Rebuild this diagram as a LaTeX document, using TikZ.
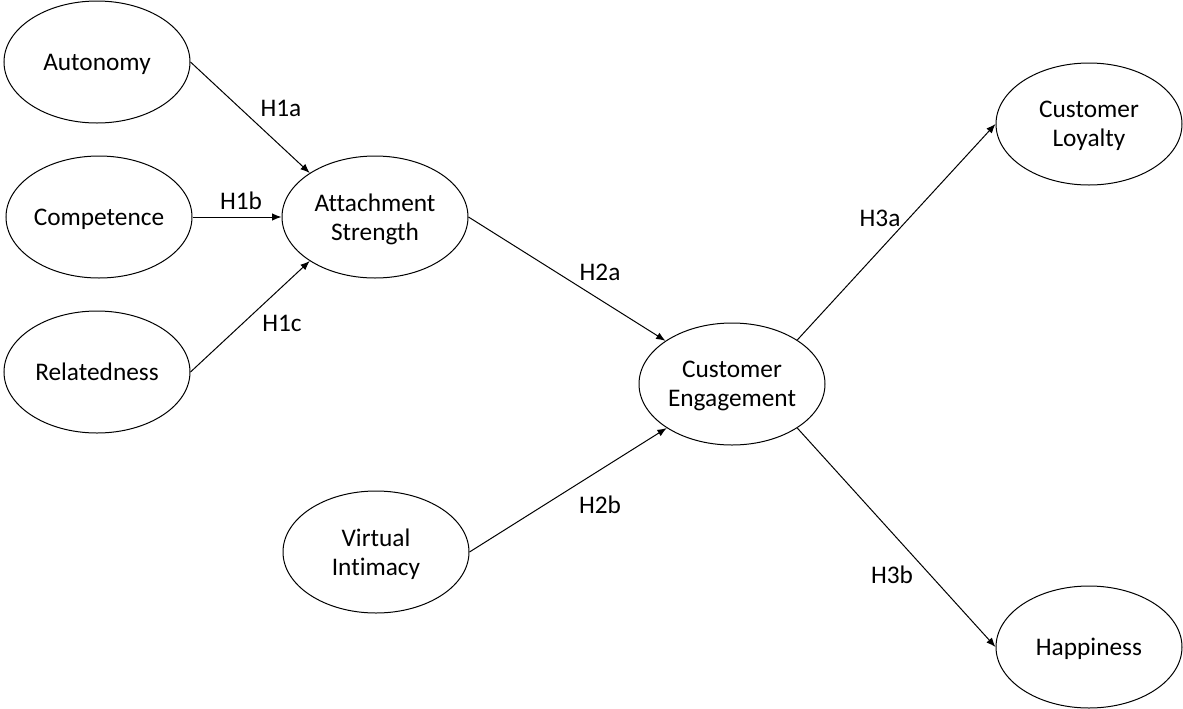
\documentclass[tikz,border=0pt]{standalone}
\usepackage{fontspec}
\setmainfont{Carlito}[RawFeature=-liga]
\usetikzlibrary{shapes.geometric,arrows.meta}
\begin{document}
\begin{tikzpicture}[x=0.75pt,y=-0.75pt,
  construct/.style={draw, ellipse, line width=0.75pt, minimum width=139.5pt, minimum height=91.5pt, inner sep=0pt, text depth=0pt, align=center, font=\fontsize{19}{22}\selectfont},
  hyp/.style={font=\fontsize{19}{22}\selectfont, inner sep=0pt},
  path/.style={line width=0.75pt, -{Latex[length=7pt,width=5.5pt]}}]
\path[use as bounding box] (0,0) rectangle (1183,708);
\node[construct] (aut) at (97,62) {Autonomy};
\node[construct] (comp) at (99,217) {Competence};
\node[construct] (rel) at (97,372) {Relatedness};
\node[construct] (att) at (375,217) {Attachment\\Strength};
\node[construct] (vi) at (376,552) {Virtual\\Intimacy};
\node[construct] (ce) at (732,384) {Customer\\Engagement};
\node[construct] (cl) at (1089,124) {Customer\\Loyalty};
\node[construct] (hap) at (1089,647) {Happiness};
\draw[path] (aut.east) -- (att.146);
\draw[path] (comp.east) -- (att.west);
\draw[path] (rel.east) -- (att.214);
\draw[path] (att.east) -- (ce.147);
\draw[path] (vi.east) -- (ce.214);
\draw[path] (ce.34) -- (cl.west);
\draw[path] (ce.-34) -- (hap.west);
\node[hyp] (h1a) at (281,108) {H1a};
\node[hyp] (h1b) at (241,201) {H1b};
\node[hyp] (h1c) at (282,323) {H1c};
\node[hyp] (h2a) at (600,272) {H2a};
\node[hyp] (h2b) at (600,505) {H2b};
\node[hyp] (h3a) at (880,218) {H3a};
\node[hyp] (h3b) at (892,575) {H3b};
\end{tikzpicture}
\end{document}
